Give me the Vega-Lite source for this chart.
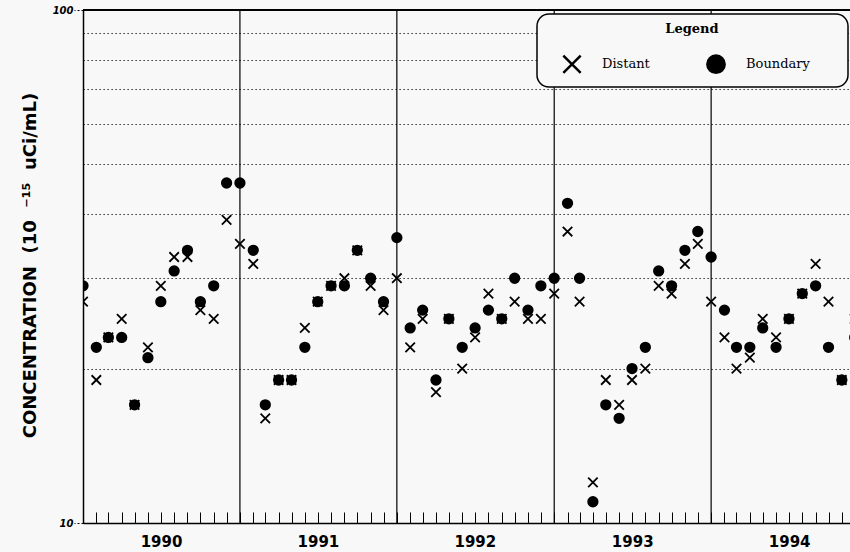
{
  "$schema": "https://vega.github.io/schema/vega-lite/v6.json",
  "width": 767,
  "height": 513,
  "autosize": {"type": "none"},
  "padding": {"left": 83, "top": 10, "right": 0, "bottom": 29},
  "background": "#f8f8f8",
  "config": {"view": {"stroke": null}, "font": "DejaVu Sans", "legend": {"strokeWidth": 1.5}},
  "datasets": {
    "conc": [
      {"month": "1990-01-01", "Distant": 27, "Boundary": 29},
      {"month": "1990-02-01", "Distant": 19, "Boundary": 22},
      {"month": "1990-03-01", "Distant": 23, "Boundary": 23},
      {"month": "1990-04-01", "Distant": 25, "Boundary": 23},
      {"month": "1990-05-01", "Distant": 17, "Boundary": 17},
      {"month": "1990-06-01", "Distant": 22, "Boundary": 21},
      {"month": "1990-07-01", "Distant": 29, "Boundary": 27},
      {"month": "1990-08-01", "Distant": 33, "Boundary": 31},
      {"month": "1990-09-01", "Distant": 33, "Boundary": 34},
      {"month": "1990-10-01", "Distant": 26, "Boundary": 27},
      {"month": "1990-11-01", "Distant": 25, "Boundary": 29},
      {"month": "1990-12-01", "Distant": 39, "Boundary": 46},
      {"month": "1991-01-01", "Distant": 35, "Boundary": 46},
      {"month": "1991-02-01", "Distant": 32, "Boundary": 34},
      {"month": "1991-03-01", "Distant": 16, "Boundary": 17},
      {"month": "1991-04-01", "Distant": 19, "Boundary": 19},
      {"month": "1991-05-01", "Distant": 19, "Boundary": 19},
      {"month": "1991-06-01", "Distant": 24, "Boundary": 22},
      {"month": "1991-07-01", "Distant": 27, "Boundary": 27},
      {"month": "1991-08-01", "Distant": 29, "Boundary": 29},
      {"month": "1991-09-01", "Distant": 30, "Boundary": 29},
      {"month": "1991-10-01", "Distant": 34, "Boundary": 34},
      {"month": "1991-11-01", "Distant": 29, "Boundary": 30},
      {"month": "1991-12-01", "Distant": 26, "Boundary": 27},
      {"month": "1992-01-01", "Distant": 30, "Boundary": 36},
      {"month": "1992-02-01", "Distant": 22, "Boundary": 24},
      {"month": "1992-03-01", "Distant": 25, "Boundary": 26},
      {"month": "1992-04-01", "Distant": 18, "Boundary": 19},
      {"month": "1992-05-01", "Distant": 25, "Boundary": 25},
      {"month": "1992-06-01", "Distant": 20, "Boundary": 22},
      {"month": "1992-07-01", "Distant": 23, "Boundary": 24},
      {"month": "1992-08-01", "Distant": 28, "Boundary": 26},
      {"month": "1992-09-01", "Distant": 25, "Boundary": 25},
      {"month": "1992-10-01", "Distant": 27, "Boundary": 30},
      {"month": "1992-11-01", "Distant": 25, "Boundary": 26},
      {"month": "1992-12-01", "Distant": 25, "Boundary": 29},
      {"month": "1993-01-01", "Distant": 28, "Boundary": 30},
      {"month": "1993-02-01", "Distant": 37, "Boundary": 42},
      {"month": "1993-03-01", "Distant": 27, "Boundary": 30},
      {"month": "1993-04-01", "Distant": 12, "Boundary": 11},
      {"month": "1993-05-01", "Distant": 19, "Boundary": 17},
      {"month": "1993-06-01", "Distant": 17, "Boundary": 16},
      {"month": "1993-07-01", "Distant": 19, "Boundary": 20},
      {"month": "1993-08-01", "Distant": 20, "Boundary": 22},
      {"month": "1993-09-01", "Distant": 29, "Boundary": 31},
      {"month": "1993-10-01", "Distant": 28, "Boundary": 29},
      {"month": "1993-11-01", "Distant": 32, "Boundary": 34},
      {"month": "1993-12-01", "Distant": 35, "Boundary": 37},
      {"month": "1994-01-01", "Distant": 27, "Boundary": 33},
      {"month": "1994-02-01", "Distant": 23, "Boundary": 26},
      {"month": "1994-03-01", "Distant": 20, "Boundary": 22},
      {"month": "1994-04-01", "Distant": 21, "Boundary": 22},
      {"month": "1994-05-01", "Distant": 25, "Boundary": 24},
      {"month": "1994-06-01", "Distant": 23, "Boundary": 22},
      {"month": "1994-07-01", "Distant": 25, "Boundary": 25},
      {"month": "1994-08-01", "Distant": 28, "Boundary": 28},
      {"month": "1994-09-01", "Distant": 32, "Boundary": 29},
      {"month": "1994-10-01", "Distant": 27, "Boundary": 22},
      {"month": "1994-11-01", "Distant": 19, "Boundary": 19},
      {"month": "1994-12-01", "Distant": 25, "Boundary": 23}
    ],
    "yearlines": [
      {"start": "1991-01-01"},
      {"start": "1992-01-01"},
      {"start": "1993-01-01"},
      {"start": "1994-01-01"}
    ]
  },
  "layer": [
    {
      "data": {"name": "yearlines"},
      "mark": {"type": "rule", "stroke": "black", "strokeWidth": 1.2},
      "encoding": {
        "x": {"field": "start", "type": "temporal"}
      }
    },
    {
      "data": {"name": "conc"},
      "mark": {"type": "rule", "stroke": "black", "strokeWidth": 1.5},
      "encoding": {"y": {"datum": 100}}
    },
    {
      "data": {"name": "conc"},
      "transform": [{"fold": ["Distant", "Boundary"], "as": ["series", "value"]}],
      "mark": {"type": "point", "size": 90, "strokeWidth": 1.8, "opacity": 1, "clip": true},
      "encoding": {
        "x": {
          "field": "month",
          "type": "temporal",
          "scale": {
            "type": "utc",
            "domain": [
              {"year": 1990, "month": 1, "date": 1, "utc": true},
              {"year": 1994, "month": 11, "date": 20, "utc": true}
            ]
          },
          "axis": {
            "title": null,
            "tickCount": {"interval": "month", "step": 1},
            "tickSize": -11,
            "tickColor": "black",
            "tickWidth": 1,
            "domainColor": "black",
            "domainWidth": 1.5,
            "grid": false,
            "labelExpr": "utcmonth(datum.value) == 0 ? utcFormat(datum.value, '%Y') : ''",
            "labelOffset": 78,
            "labelAlign": "center",
            "labelBaseline": "top",
            "labelFlush": false,
            "labelOverlap": false,
            "labelBound": false,
            "labelFont": "DejaVu Sans",
            "labelFontSize": 15,
            "labelFontWeight": "bold",
            "labelColor": "black",
            "labelPadding": 22
          }
        },
        "y": {
          "field": "value",
          "type": "quantitative",
          "scale": {"type": "log", "domain": [10, 100], "nice": false},
          "axis": {
            "title": "CONCENTRATION\u00a0 (10\u00a0 ⁻¹⁵\u00a0 uCi/mL)",
            "values": [10, 20, 30, 40, 50, 60, 70, 80, 90, 100],
            "grid": true,
            "gridDash": [1.2, 2.8],
            "gridColor": "black",
            "gridWidth": 1.1,
            "tickSize": 9,
            "tickDash": [2, 2],
            "tickColor": "black",
            "tickOpacity": {"condition": {"test": "datum.value == 10 || datum.value == 100", "value": 1}, "value": 0},
            "labelExpr": "datum.value == 10 || datum.value == 100 ? datum.label : ''",
            "labelFont": "DejaVu Sans",
            "labelFontSize": 10,
            "labelFontStyle": "italic",
            "labelFontWeight": "bold",
            "labelColor": "black",
            "labelPadding": 1,
            "labelBaseline": "middle",
            "domainColor": "black",
            "domainWidth": 1.5,
            "titleX": -53,
            "titleY": 255,
            "titleAngle": -90,
            "titleAlign": "center",
            "titleBaseline": "middle",
            "titleFont": "DejaVu Sans",
            "titleFontSize": 18,
            "titleFontWeight": "bold",
            "titleColor": "black"
          }
        },
        "shape": {
          "field": "series",
          "type": "nominal",
          "scale": {"domain": ["Distant", "Boundary"], "range": ["M-1,-1L1,1M-1,1L1,-1", "circle"]},
          "legend": {
            "title": "Legend",
            "orient": "none",
            "legendX": 454,
            "legendY": 4,
            "direction": "horizontal",
            "columns": 2,
            "padding": 9,
            "strokeColor": "black",
            "cornerRadius": 12,
            "fillColor": "#f8f8f8",
            "titleAnchor": "middle",
            "titleFont": "DejaVu Serif",
            "titleFontSize": 13,
            "titleFontWeight": "bold",
            "titleColor": "black",
            "titlePadding": 18,
            "labelFont": "DejaVu Serif",
            "labelFontSize": 13,
            "labelColor": "black",
            "symbolSize": 300,
            "symbolStrokeWidth": 2.5,
            "symbolStrokeColor": "black",
            "symbolOffset": 16,
            "labelOffset": 20,
            "columnPadding": 40,
            "labelExpr": "datum.label == 'Boundary' ? datum.label + '\u00a0\u00a0\u00a0\u00a0\u00a0\u00a0\u00a0\u200b' : datum.label"
          }
        },
        "fill": {
          "field": "series",
          "type": "nominal",
          "scale": {"domain": ["Distant", "Boundary"], "range": ["transparent", "black"]}
        },
        "stroke": {
          "field": "series",
          "type": "nominal",
          "scale": {"domain": ["Distant", "Boundary"], "range": ["black", "black"]}
        }
      }
    }
  ]
}
